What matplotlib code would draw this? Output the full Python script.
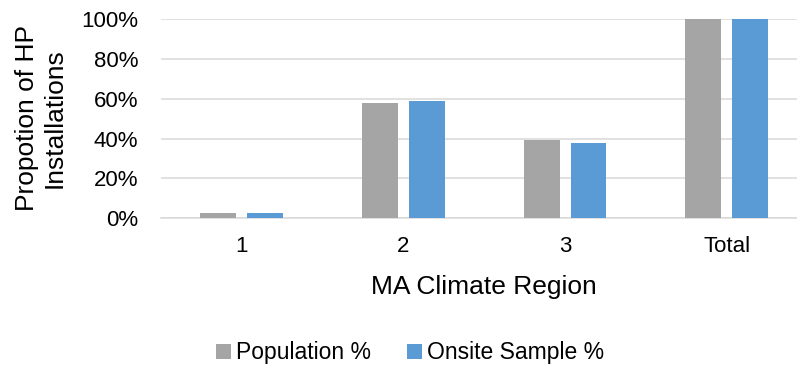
import matplotlib
matplotlib.use("Agg")
import matplotlib.pyplot as plt
from matplotlib.ticker import PercentFormatter
import numpy as np

plt.rcParams['font.family'] = ['Liberation Sans', 'DejaVu Sans']

regions = ["1", "2", "3", "Total"]
population_pct = [2.8, 58.0, 39.1, 100.0]
onsite_sample_pct = [2.8, 58.9, 37.8, 100.0]

GRAY = "#A5A5A5"
BLUE = "#5B9BD5"
GRID = "#D9D9D9"

W, H = 797, 368
fig = plt.figure(figsize=(W / 100, H / 100), dpi=100)
# plot area runs a little past the right edge of the canvas
ax = fig.add_axes([160.5 / W, (H - 218.3) / H, 647.3 / W, 199.3 / H])

x = np.arange(len(regions))
bw = 0.222
off = 0.145
ax.bar(x - off, population_pct, bw, color=GRAY, label="Population %", zorder=3)
ax.bar(x + off, onsite_sample_pct, bw, color=BLUE, label="Onsite Sample %", zorder=3)

ax.set_xlim(-0.5, 3.5)
ax.set_ylim(0, 100)
ax.set_yticks(np.arange(0, 101, 20))
ax.yaxis.set_major_formatter(PercentFormatter(decimals=0))
ax.set_xticks(x)
ax.set_xticklabels(regions)

ax.grid(axis="y", color=GRID, linewidth=1.1, zorder=0)
ax.set_axisbelow(True)
for s in ["top", "right", "left"]:
    ax.spines[s].set_visible(False)
ax.spines["bottom"].set_color(GRID)
ax.spines["bottom"].set_linewidth(1.1)
ax.tick_params(axis="y", length=0, pad=16, labelsize=16)
ax.tick_params(axis="x", length=0, pad=13, labelsize=16)

ax.set_xlabel("MA Climate Region", fontsize=19, labelpad=13)
fig.text(41 / W, 1 - 118 / H, "Propotion of HP\nInstallations", rotation=90,
         ha="center", va="center", fontsize=19, multialignment="center",
         linespacing=1.2)

fig.legend(loc="center", bbox_to_anchor=(410 / W, 1 - 353 / H), ncol=2,
           frameon=False, fontsize=16.5, handlelength=0.65, handleheight=0.65,
           handletextpad=0.2, columnspacing=1.6)

fig.savefig("out.png", dpi=100)
